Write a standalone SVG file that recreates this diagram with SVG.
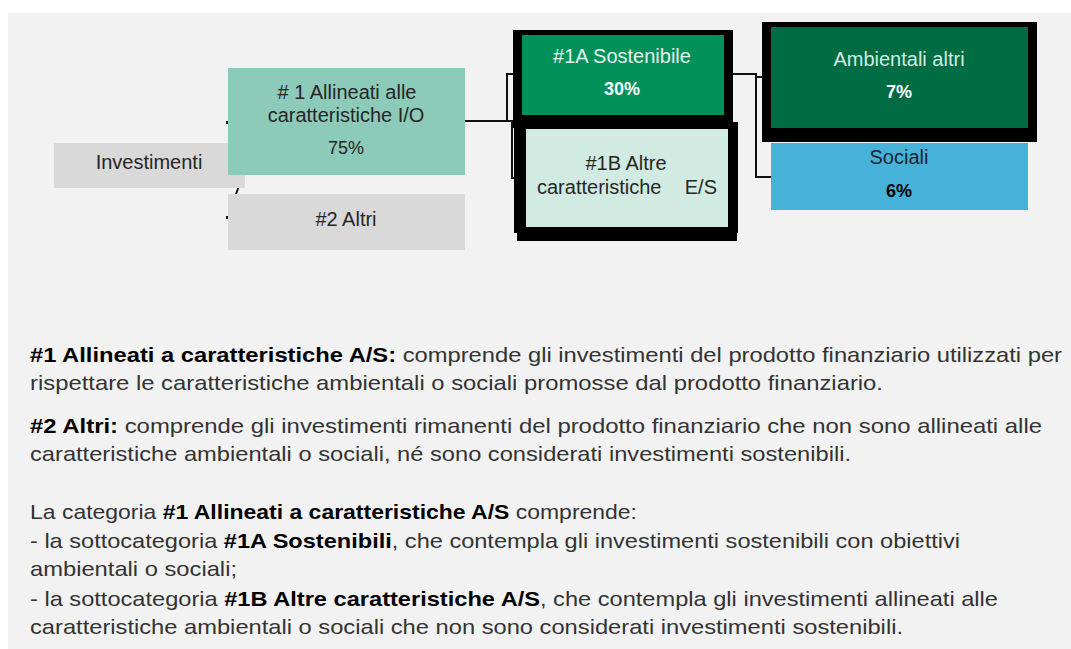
<svg xmlns="http://www.w3.org/2000/svg" width="1071" height="649" viewBox="0 0 1071 649">
<style>
.t{font-family:"Liberation Sans",Arial,sans-serif;font-size:20px;fill:#262626;text-anchor:middle}
.p{font-family:"Liberation Sans",Arial,sans-serif;font-size:18px;text-anchor:middle}
.b{font-family:"Liberation Sans",Arial,sans-serif;font-size:21px;fill:#333333}
.bb{font-weight:bold;fill:#000000}
.con{fill:none;stroke:#111111;stroke-width:2}
</style>
<rect x="0" y="0" width="1071" height="649" fill="#ffffff"/>
<rect x="8" y="13" width="1063" height="636" fill="#f2f2f2"/>
<g id="connectors">
<path class="con" d="M465,121 H512 V178 H516"/>
<path class="con" d="M507,121 V74 H515"/>
<path class="con" d="M733,74 H756 V177 H771"/>
<path class="con" d="M756,77 H763"/>
<path class="con" d="M227,121 v3"/>
<path class="con" d="M239,186 L236,194"/>
<path class="con" d="M227,216 v3"/>
</g>
<g id="investimenti">
<rect x="54" y="143" width="191" height="45" fill="#d9d9d9"/>
<text class="t" x="149" y="169">Investimenti</text>
</g>
<g id="n1">
<rect x="228" y="68" width="237" height="107" fill="#8ccbb9"/>
<text class="t" x="347" y="99"># 1 Allineati alle</text>
<text class="t" x="346" y="122">caratteristiche I/O</text>
<text class="p" x="346" y="154" fill="#262626">75%</text>
</g>
<g id="n2">
<rect x="228" y="194" width="237" height="56" fill="#d9d9d9"/>
<text class="t" x="346" y="226">#2 Altri</text>
</g>
<g id="n1a">
<rect x="513" y="30" width="220" height="98" fill="#000000"/>
<rect x="522" y="35" width="202" height="80" fill="#00915a"/>
<text class="t" x="622" y="63" style="fill:#e3f2ea">#1A Sostenibile</text>
<text class="p" x="622" y="95" font-weight="bold" fill="#ffffff">30%</text>
</g>
<g id="n1b">
<rect x="514" y="122" width="224" height="111" fill="#000000"/>
<rect x="517" y="226" width="220" height="15" fill="#000000"/>
<rect x="526" y="129" width="202" height="98" fill="#d1ebe3"/>
<text class="t" x="626" y="170">#1B Altre</text>
<text class="t" x="537" y="194" style="text-anchor:start">caratteristiche</text>
<text class="t" x="717" y="194" style="text-anchor:end">E/S</text>
</g>
<g id="ambientali">
<rect x="762" y="22" width="275" height="120" fill="#000000"/>
<rect x="771" y="27" width="257" height="101" fill="#006c44"/>
<text class="t" x="899" y="66" style="fill:#d4eadf">Ambientali altri</text>
<text class="p" x="899" y="98" font-weight="bold" fill="#ffffff">7%</text>
</g>
<g id="sociali">
<rect x="771" y="143" width="257" height="67" fill="#47b2d9"/>
<text class="t" x="899" y="164" style="fill:#1a2530">Sociali</text>
<text class="p" x="899" y="197" font-weight="bold" fill="#000000">6%</text>
</g>
<g id="legend">
<text class="b" x="30" y="362" textLength="1032" lengthAdjust="spacingAndGlyphs"><tspan class="bb">#1 Allineati a caratteristiche A/S:</tspan> comprende gli investimenti del prodotto finanziario utilizzati per</text>
<text class="b" x="30" y="390" textLength="853" lengthAdjust="spacingAndGlyphs">rispettare le caratteristiche ambientali o sociali promosse dal prodotto finanziario.</text>
<text class="b" x="30" y="433" textLength="1012" lengthAdjust="spacingAndGlyphs"><tspan class="bb">#2 Altri:</tspan> comprende gli investimenti rimanenti del prodotto finanziario che non sono allineati alle</text>
<text class="b" x="30" y="461" textLength="821" lengthAdjust="spacingAndGlyphs">caratteristiche ambientali o sociali, né sono considerati investimenti sostenibili.</text>
<text class="b" x="30" y="519" textLength="607" lengthAdjust="spacingAndGlyphs">La categoria <tspan class="bb">#1 Allineati a caratteristiche A/S</tspan> comprende:</text>
<text class="b" x="30" y="548" textLength="930" lengthAdjust="spacingAndGlyphs">- la sottocategoria <tspan class="bb">#1A Sostenibili</tspan>, che contempla gli investimenti sostenibili con obiettivi</text>
<text class="b" x="30" y="576" textLength="207" lengthAdjust="spacingAndGlyphs">ambientali o sociali;</text>
<text class="b" x="30" y="606" textLength="968" lengthAdjust="spacingAndGlyphs">- la sottocategoria <tspan class="bb">#1B Altre caratteristiche A/S</tspan>, che contempla gli investimenti allineati alle</text>
<text class="b" x="30" y="634" textLength="873" lengthAdjust="spacingAndGlyphs">caratteristiche ambientali o sociali che non sono considerati investimenti sostenibili.</text>
</g>
</svg>
